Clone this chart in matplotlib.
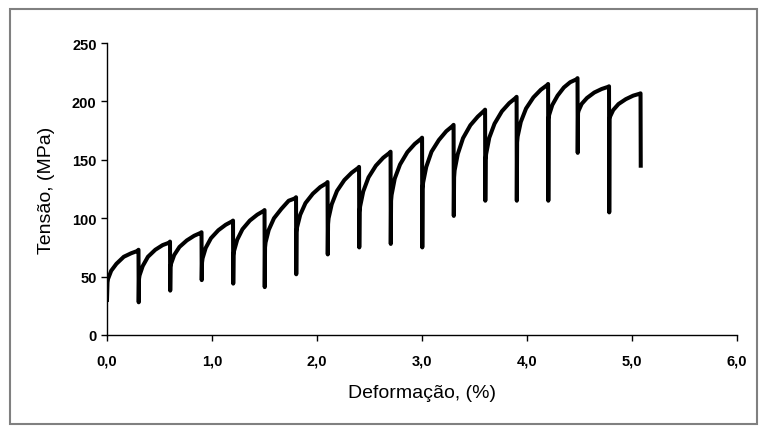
# Tensao x deformacao - ensaio com ciclos de descarga/recarga
import matplotlib
matplotlib.use("Agg")
import matplotlib.pyplot as plt
from matplotlib.patches import Rectangle

plt.rcParams['font.family'] = ['Liberation Sans', 'DejaVu Sans']

# curve, cycle by cycle (strain %, stress MPa)
deformacao = [
    0.0, 0.005, 0.01, 0.04, 0.09, 0.16, 0.23, 0.29, 0.30, 0.302,
    0.305, 0.31, 0.34, 0.39, 0.46, 0.53, 0.59, 0.60, 0.602,
    0.605, 0.61, 0.64, 0.69, 0.76, 0.83, 0.89, 0.90, 0.902,
    0.905, 0.91, 0.94, 0.99, 1.06, 1.13, 1.19, 1.20, 1.202,
    1.205, 1.21, 1.24, 1.29, 1.36, 1.43, 1.49, 1.50, 1.502,
    1.505, 1.51, 1.54, 1.59, 1.66, 1.73, 1.79, 1.80, 1.802,
    1.805, 1.81, 1.84, 1.89, 1.96, 2.03, 2.09, 2.10, 2.102,
    2.105, 2.11, 2.14, 2.19, 2.26, 2.33, 2.39, 2.40, 2.402,
    2.405, 2.41, 2.44, 2.49, 2.56, 2.63, 2.69, 2.70, 2.702,
    2.705, 2.71, 2.74, 2.79, 2.86, 2.93, 2.99, 3.00, 3.002,
    3.005, 3.01, 3.04, 3.09, 3.16, 3.23, 3.29, 3.30, 3.302,
    3.305, 3.31, 3.34, 3.39, 3.46, 3.53, 3.59, 3.60, 3.602,
    3.605, 3.61, 3.64, 3.69, 3.76, 3.83, 3.89, 3.90, 3.902,
    3.905, 3.91, 3.94, 3.99, 4.06, 4.13, 4.19, 4.20, 4.202,
    4.205, 4.21, 4.24, 4.29, 4.35, 4.41, 4.47, 4.48, 4.482,
    4.485, 4.49, 4.52, 4.57, 4.64, 4.71, 4.77, 4.78, 4.782,
    4.785, 4.79, 4.82, 4.87, 4.94, 5.01, 5.07, 5.08, 5.082,
]
tensao = [
    30, 45, 48, 55, 61, 67, 70, 72, 73, 28,
    48, 51, 59, 67, 73, 77, 79, 80, 38,
    58, 61, 68.5, 75.4, 81, 85, 87.4, 88, 47,
    62, 65.6, 74.6, 82.9, 89.7, 94.4, 97.3, 98, 44,
    68, 72, 81.6, 90.6, 98, 103, 106.2, 107, 41,
    75, 79.3, 90, 100, 108, 115, 117, 118, 52,
    88, 92.3, 103, 113, 121, 126.7, 130, 131, 69,
    95, 100, 112, 123.4, 132.7, 139, 143, 144, 75,
    105, 110, 123, 135, 145, 151.8, 156, 157, 78,
    115, 120, 134, 146, 156.6, 163.6, 168, 169, 75,
    125, 130.5, 144, 157, 167, 174.5, 179, 180, 102,
    135, 141, 155, 168.6, 179.7, 187, 192, 193, 115,
    150, 155, 169, 181, 191.6, 198.6, 203, 204, 115,
    165, 170, 182.5, 194, 203.5, 210, 214, 215, 115,
    185, 188.5, 197, 205, 212, 216.5, 219, 220, 156,
    190, 192, 198, 203, 207.7, 210.7, 212.5, 213, 105,
    185, 187, 192.7, 197.8, 202, 205, 206.6, 207, 145,
]

xticks = [0, 1, 2, 3, 4, 5, 6]
xticklabels = ["0,0", "1,0", "2,0", "3,0", "4,0", "5,0", "6,0"]
yticks = [0, 50, 100, 150, 200, 250]

fig = plt.figure(figsize=(7.62, 4.35), dpi=100)
# moldura cinza em volta do grafico
fig.patches.append(Rectangle((0.013, 0.023), 0.981, 0.954, transform=fig.transFigure,
                             fill=False, edgecolor="#808080", linewidth=1.5))

ax = fig.add_axes([0.1404, 0.2276, 0.827, 0.671])
ax.plot(deformacao, tensao, color="black", linewidth=2.9, solid_joinstyle="round")

ax.set_xlim(0, 6)
ax.set_ylim(0, 250)
ax.set_xticks(xticks)
ax.set_xticklabels(xticklabels, fontweight="bold")
ax.set_yticks(yticks)
for lbl in ax.get_yticklabels():
    lbl.set_fontweight("bold")
ax.tick_params(axis="both", direction="out", length=4, width=1, labelsize=10.5, colors="black")
ax.tick_params(axis="x", pad=9)
ax.spines["top"].set_visible(False)
ax.spines["right"].set_visible(False)
ax.spines["left"].set_linewidth(1)
ax.spines["bottom"].set_linewidth(1)

ax.set_xlabel("Deformação, (%)", fontsize=14, labelpad=12)
ax.set_ylabel("Tensão, (MPa)", fontsize=14, labelpad=12)

plt.savefig("out.png", dpi=100)
